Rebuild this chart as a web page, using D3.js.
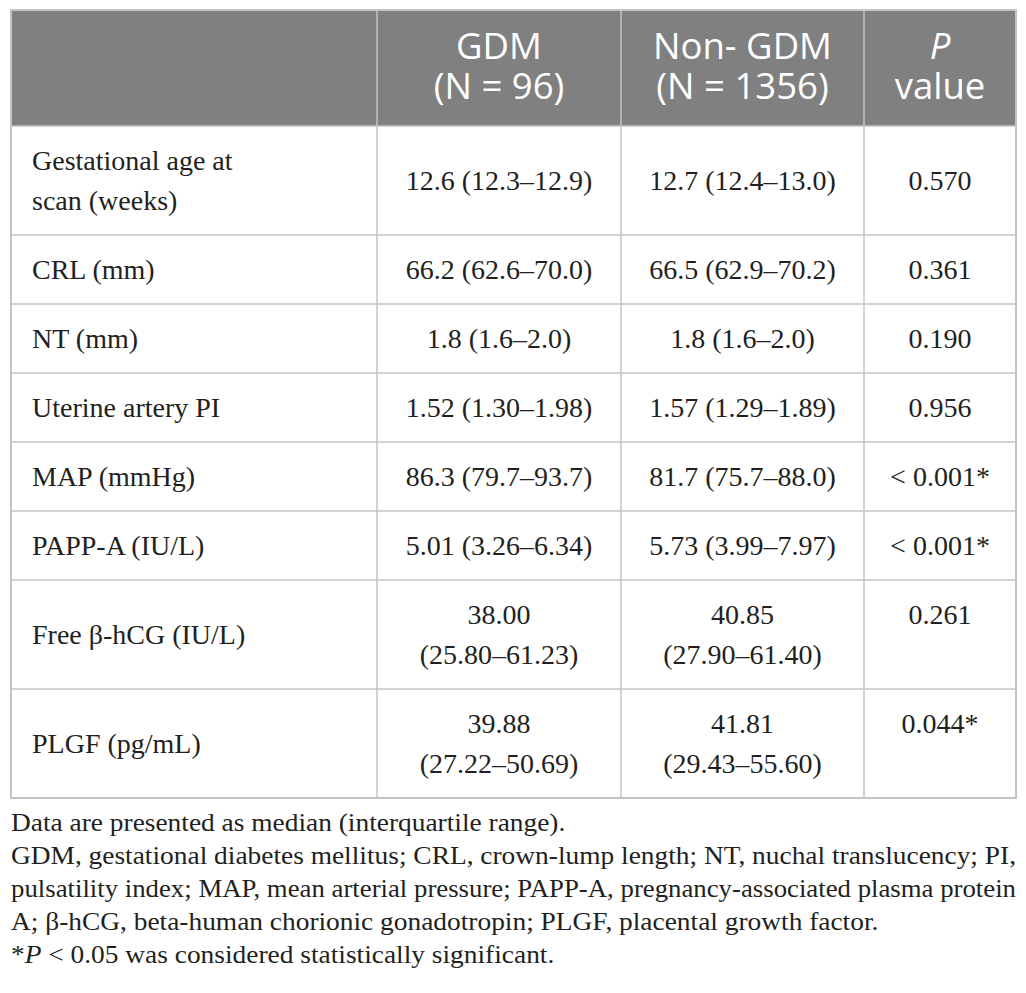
<!DOCTYPE html>
<html>
<head>
<meta charset="utf-8">
<script src="https://cdn.jsdelivr.net/npm/d3@7"></script>
<style>
  body { margin: 0; background: #fff; }
  svg { display: block; }
</style>
</head>
<body>
<svg id="chart" width="1026" height="993"></svg>
<script>

// table content
var headers = [
    [],
    [[{t: 'GDM'}], [{t: '(N = 96)'}]],
    [[{t: 'Non- GDM'}], [{t: '(N = 1356)'}]],
    [[{t: 'P', i: true}], [{t: 'value'}]]
];

var variables = [
    'Gestational age at\nscan (weeks)',
    'CRL (mm)',
    'NT (mm)',
    'Uterine artery PI',
    'MAP (mmHg)',
    'PAPP-A (IU/L)',
    'Free \u03b2-hCG (IU/L)',
    'PLGF (pg/mL)'
];

var gdm_values = [
    '12.6 (12.3\u201312.9)',
    '66.2 (62.6\u201370.0)',
    '1.8 (1.6\u20132.0)',
    '1.52 (1.30\u20131.98)',
    '86.3 (79.7\u201393.7)',
    '5.01 (3.26\u20136.34)',
    '38.00\n(25.80\u201361.23)',
    '39.88\n(27.22\u201350.69)'
];

var non_gdm_values = [
    '12.7 (12.4\u201313.0)',
    '66.5 (62.9\u201370.2)',
    '1.8 (1.6\u20132.0)',
    '1.57 (1.29\u20131.89)',
    '81.7 (75.7\u201388.0)',
    '5.73 (3.99\u20137.97)',
    '40.85\n(27.90\u201361.40)',
    '41.81\n(29.43\u201355.60)'
];

var p_values = ['0.570', '0.361', '0.190', '0.956', '< 0.001*', '< 0.001*', '0.261', '0.044*'];

var footnotes = [
    [{t: 'Data are presented as median (interquartile range).'}],
    [{t: 'GDM, gestational diabetes mellitus; CRL, crown-lump length; NT, nuchal translucency; PI,'}],
    [{t: 'pulsatility index; MAP, mean arterial pressure; PAPP-A, pregnancy-associated plasma protein'}],
    [{t: 'A; \u03b2-hCG, beta-human chorionic gonadotropin; PLGF, placental growth factor.'}],
    [{t: '*'}, {t: 'P', i: true}, {t: ' < 0.05 was considered statistically significant.'}]
];

var justified = [false, true, true, false, false];


var svg = d3.select('#chart');

var t_left = 11,
    t_right = 1016,
    t_top = 10,
    header_h = 116,
    line_h = 40,
    pad_v = 29,
    text_color = '#231f20',
    grid_color = '#c4c4c4';

var col_widths = [366, 244, 243, 152];
var col_edges = [t_left].concat(Array.from(d3.cumsum(col_widths), function (w) { return t_left + w; }));

var x = d3.scaleOrdinal()
    .domain(d3.range(4))
    .range(col_edges.slice(0, 4));

var rows = variables.map(function (v, i) {
    var cells = [v, gdm_values[i], non_gdm_values[i], p_values[i]].map(function (s) { return s.split('\n'); });
    return {
        cells: cells,
        lines: d3.max(cells, function (c) { return c.length; }),
        value_lines: Math.max(cells[1].length, cells[2].length)
    };
});

var row_h = rows.map(function (r) { return pad_v + line_h * r.lines; });
var row_tops = [t_top + header_h].concat(Array.from(d3.cumsum(row_h), function (h) { return t_top + header_h + h; }));

var y = d3.scaleOrdinal()
    .domain(d3.range(rows.length))
    .range(row_tops.slice(0, rows.length));

var table_bottom = row_tops[rows.length];


// header band
svg.append('rect')
    .attr('x', t_left)
    .attr('y', t_top)
    .attr('width', t_right - t_left)
    .attr('height', header_h)
    .attr('fill', '#808080');

var header_g = svg.append('g')
    .attr('font-family', '"Open Sans", sans-serif')
    .attr('font-size', 36.5)
    .attr('fill', '#fff')
    .attr('text-anchor', 'middle');

headers.forEach(function (lines, c) {
    if (!lines.length) return;
    var cx = x(c) + col_widths[c] / 2;
    var t = header_g.append('text')
        .attr('x', cx)
        .attr('y', t_top + 49);
    lines.forEach(function (parts, li) {
        parts.forEach(function (p, pi) {
            var s = t.append('tspan')
                .attr('font-style', p.i ? 'italic' : null)
                .text(p.t);
            if (pi === 0) s.attr('x', cx).attr('dy', li === 0 ? 0 : 40);
        });
    });
});


// body rows
var row_g = svg.append('g')
    .attr('font-family', '"Liberation Serif", "Times New Roman", serif')
    .attr('font-size', 28)
    .attr('fill', text_color)
    .selectAll('g')
    .data(rows)
    .enter()
    .append('g')
    .attr('transform', function (d, i) { return 'translate(0,' + y(i) + ')'; });

row_g.each(function (r, i) {
    var g = d3.select(this),
        cy = row_h[i] / 2;
    r.cells.forEach(function (lines, c) {
        var n = lines.length,
            first = cy - (n - 1) * line_h / 2 + 9;
        // p value sits on the first line when the values wrap
        if (c === 3 && r.value_lines > 1) first = cy - (r.value_lines - 1) * line_h / 2 + 9;
        var tx = c === 0 ? x(0) + 21 : x(c) + col_widths[c] / 2;
        g.selectAll('text.c' + c)
            .data(lines)
            .enter()
            .append('text')
            .attr('class', 'c' + c)
            .attr('x', tx)
            .attr('y', function (d, li) { return first + li * line_h; })
            .attr('text-anchor', c === 0 ? 'start' : 'middle')
            .text(function (d) { return d; });
    });
});


// grid lines
var grid = svg.append('g')
    .attr('stroke', grid_color)
    .attr('stroke-width', 1.5)
    .attr('fill', 'none');

grid.selectAll('line.h')
    .data(row_tops.slice(0, rows.length))
    .enter()
    .append('line')
    .attr('class', 'h')
    .attr('x1', t_left)
    .attr('x2', t_right)
    .attr('y1', function (d) { return d; })
    .attr('y2', function (d) { return d; });

grid.selectAll('line.v')
    .data(col_edges.slice(1, 4))
    .enter()
    .append('line')
    .attr('class', 'v')
    .attr('x1', function (d) { return d; })
    .attr('x2', function (d) { return d; })
    .attr('y1', t_top)
    .attr('y2', table_bottom);

grid.append('rect')
    .attr('x', t_left)
    .attr('y', t_top)
    .attr('width', t_right - t_left)
    .attr('height', table_bottom - t_top)
    .attr('stroke-width', 2);


// footnotes
var foot_g = svg.append('g')
    .attr('font-family', '"Liberation Serif", "Times New Roman", serif')
    .attr('font-size', 26)
    .attr('fill', text_color);

var foot_texts = foot_g.selectAll('text')
    .data(footnotes)
    .enter()
    .append('text')
    .attr('x', t_left)
    .attr('y', function (d, i) { return table_bottom + 33 + i * 33; });

foot_texts.selectAll('tspan')
    .data(function (d) { return d; })
    .enter()
    .append('tspan')
    .attr('font-style', function (d) { return d.i ? 'italic' : null; })
    .text(function (d) { return d.t; });

// the source uses a condensed face: squeeze every line by the same factor
var squeeze = (t_right - t_left) / foot_texts.nodes()[1].getComputedTextLength();
foot_texts.each(function (d, i) {
    var w = justified[i] ? t_right - t_left : this.getComputedTextLength() * squeeze;
    d3.select(this)
        .attr('textLength', w)
        .attr('lengthAdjust', 'spacingAndGlyphs');
});

</script>
</body>
</html>
